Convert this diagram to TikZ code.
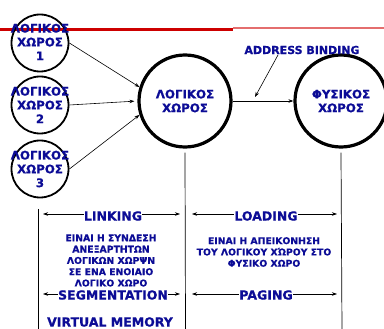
\documentclass[tikz,border=0pt]{standalone}
\usepackage{fontspec}
\setmainfont{DejaVu Sans}[BoldFeatures={FakeBold=0.6}]
\usetikzlibrary{arrows.meta}
\definecolor{txtblue}{RGB}{12,12,150}
\definecolor{darkred}{RGB}{205,0,0}
\definecolor{lightred}{RGB}{228,110,110}
\tikzset{
  lbl/.style={text=txtblue,font=\bfseries\fontsize{11.8}{13.8}\selectfont,align=center,inner sep=0pt},
  smallc/.style={circle,draw=black,line width=1.8pt,minimum size=57pt,inner sep=0pt},
  bigc/.style={circle,draw=black,line width=3.2pt,minimum size=92pt,inner sep=0pt},
  conn/.style={draw=black,line width=0.6pt,-{Stealth[length=5pt,width=3.5pt]}},
  dbl/.style={draw=black,line width=0.6pt,{Stealth[length=5pt,width=3.5pt]}-{Stealth[length=5pt,width=3.5pt]}},
  head/.style={text=txtblue,font=\bfseries\fontsize{12.5}{14}\selectfont,fill=white,inner sep=0pt},
  body/.style={text=txtblue,font=\bfseries\fontsize{9.3}{11.3}\selectfont,align=center,inner sep=0pt},
  vline/.style={draw=black,line width=0.7pt}
}
\begin{document}
\begin{tikzpicture}[x=1pt,y=-1pt]
\useasboundingbox[fill=white] (0,0) rectangle (384,329);
% red lines at top
\draw[darkred,line width=3.3pt] (0,29.5) -- (233,29.5);
\draw[lightred,line width=1.5pt] (233,28) -- (384,28);
% circles
\node[smallc] (c1) at (40,43) {};
\node[smallc] (c2) at (40,105) {};
\node[smallc] (c3) at (40,169) {};
\node[bigc] (L) at (185,101) {};
\node[bigc] (R) at (341,101) {};
\node[lbl] (t1) at (40,42) {ΛΟΓΙΚΟΣ\\ΧΩΡΟΣ\\1};
\node[lbl] (t2) at (40,105) {ΛΟΓΙΚΟΣ\\ΧΩΡΟΣ\\2};
\node[lbl] (t3) at (40,169) {ΛΟΓΙΚΟΣ\\ΧΩΡΟΣ\\3};
\node[lbl] (tL) at (185,101) {ΛΟΓΙΚΟΣ\\ΧΩΡΟΣ};
\node[lbl] (tR) at (341,101) {ΦΥΣΙΚΟΣ\\ΧΩΡΟΣ};
% connectors
\draw[conn] (c1.east) -- (L.163);
\draw[conn,shorten >=3pt] (c2.east) -- (L.west);
\draw[conn] (c3.east) -- (L.197);
\draw[conn] (L.east) -- (R.west);
% address binding
\node[text=txtblue,font=\bfseries\fontsize{11}{13}\selectfont,inner sep=0pt] (ab) at (302,50) {ADDRESS BINDING};
\coordinate (abs) at (278,55);
\coordinate (abt) at (255,97);
\draw[conn] (abs) -- (abt);
% vertical lines
\coordinate (vl1) at (38,209);
\coordinate (vl2) at (38,329);
\coordinate (vm) at (185.5,329);
\coordinate (vr) at (342,329);
\draw[vline] (vl1) -- (vl2);
\draw[vline] ([yshift=-4pt]L.south) -- (vm);
\draw[vline] ([yshift=-4pt]R.south |- L.south) -- (vr);
% double arrows
\coordinate (a1) at (43,214);
\coordinate (a2) at (180,214);
\coordinate (a3) at (192,214);
\coordinate (a4) at (337,214);
\coordinate (b1) at (43,294);
\coordinate (b2) at (180,294);
\coordinate (b3) at (192,294);
\coordinate (b4) at (337,294);
\draw[dbl] (a1) -- (a2);
\draw[dbl] (a3) -- (a4);
\draw[dbl] (b1) -- (b2);
\draw[dbl] (b3) -- (b4);
\node[head] (link) at (113,216) {LINKING};
\node[head] (load) at (266,216) {LOADING};
\node[head] (seg) at (113,295) {SEGMENTATION};
\node[head] (pag) at (266,295) {PAGING};
\node[head] (vm2) at (110,322) {VIRTUAL MEMORY};
% body texts
\node[body] (bl) at (111,260.5) {ΕΙΝΑΙ Η ΣΥΝΔΕΣΗ\\ΑΝΕΞΑΡΤΗΤΩΝ\\ΛΟΓΙΚΩΝ ΧΩΡΨΝ\\ΣΕ ΕΝΑ ΕΝΟΙΑΙΟ\\ΛΟΓΙΚΟ ΧΩΡΟ};
\node[body] (br) at (264,252) {ΕΙΝΑΙ Η ΑΠΕΙΚΟΝΗΣΗ\\ΤΟΥ ΛΟΓΙΚΟΥ ΧΏΡΟΥ ΣΤΟ\\ΦΥΣΙΚΟ ΧΩΡΟ};
\end{tikzpicture}
\end{document}
